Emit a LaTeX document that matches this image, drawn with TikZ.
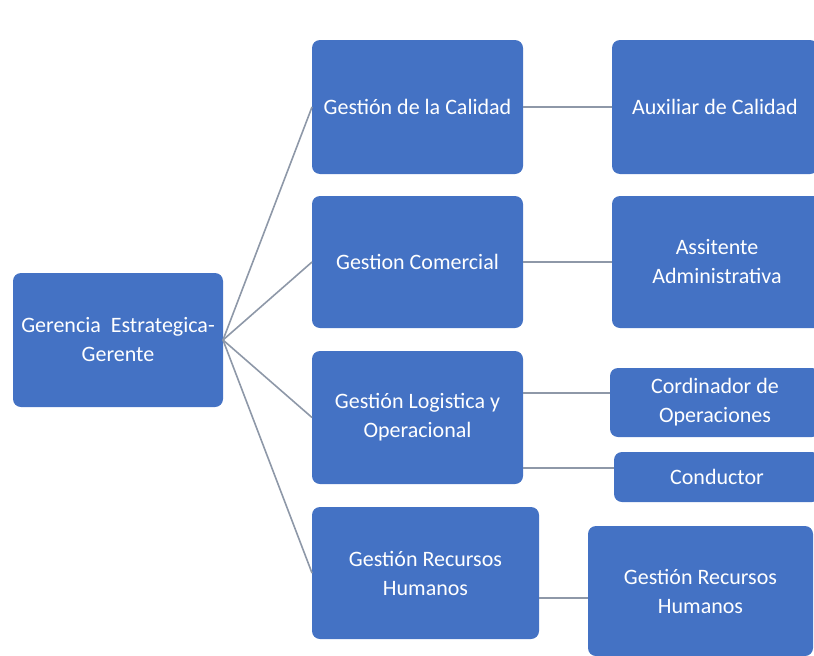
\documentclass[tikz,border=0pt]{standalone}
\usepackage{fontspec}
\setmainfont{Carlito}
\usepackage{tikz}
\usetikzlibrary{positioning}
\definecolor{BoxBlue}{HTML}{4472C4}
\definecolor{EdgeGray}{HTML}{8E98A8}
\tikzstyle{edge}  =[draw=EdgeGray, line width=1.6pt]

\begin{document}
\begin{tikzpicture}[x=1pt, y=-1pt, every node/.style = {fill=BoxBlue,
            rounded corners=8pt, text=white, align=center, inner sep=0pt,
            outer sep=0pt, font=\fontsize{22}{29}\selectfont}]
        \useasboundingbox (0,0) rectangle (814,656);
        \clip (0,0) rectangle (814,656);
        % gerencia
        \node (ger) [minimum width=210pt, minimum height=134pt] at (118,340)
            {Gerencia\ \ Estrategica-\\Gerente};
        % areas
        \node (cal) [minimum width=211pt, minimum height=134pt] at (417.5,107)
            {Gestión de la Calidad};
        \node (com) [minimum width=211pt, minimum height=132pt] at (417.5,262)
            {Gestion Comercial};
        \node (log) [minimum width=211pt, minimum height=133pt] at (417.5,417.5)
            {Gestión Logistica y\\Operacional};
        \node (rhm) [minimum width=227pt, minimum height=132pt] at (425.5,573)
            {Gestión Recursos\\Humanos};
        % cargos
        \node (aux) [minimum width=206pt, minimum height=134pt] at (715,107)
            {Auxiliar de Calidad};
        \node (asi) [minimum width=210pt, minimum height=132pt] at (717,262)
            {Assitente\\Administrativa};
        \node (cor) [minimum width=210pt, minimum height=69pt] at (715,402.5)
            {Cordinador de\\Operaciones};
        \node (con) [minimum width=206pt, minimum height=50pt] at (717,477)
            {Conductor};
        \node (rhc) [minimum width=225pt, minimum height=130pt] at (700.5,591)
            {Gestión Recursos\\Humanos};
        \foreach \s in {cal,com,log,rhm} { \draw [edge] (ger.east) -- (\s.west); }
        \draw [edge] (cal.east) -- (aux.west);
        \draw [edge] (com.east) -- (asi.west);
        \draw [edge] (log.east |- 0,393) -- (cor.west |- 0,393);
        \draw [edge] (log.east |- 0,468) -- (con.west |- 0,468);
        \draw [edge] (rhm.east |- 0,598) -- (rhc.west |- 0,598);
\end{tikzpicture}
\end{document}
